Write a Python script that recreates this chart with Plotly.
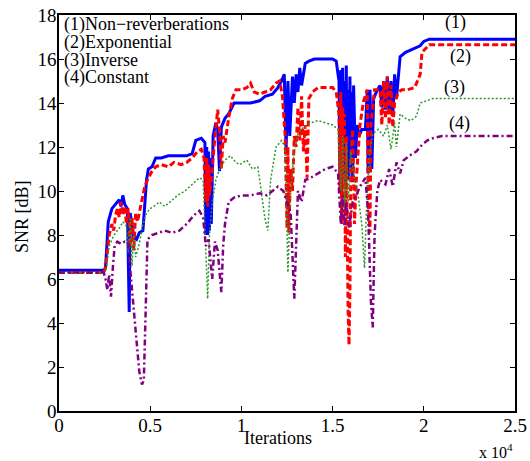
import plotly.graph_objects as go

# ---------------- data ----------------
iter_1 = [0, 2450, 2550, 2700, 2900, 3100, 3300, 3400, 3500, 3600, 3750, 3850, 3900, 4000, 4100, 4250, 4400, 4600,
          4800, 4900, 5100, 5300, 5600, 6000, 6500, 7000, 7300, 7500, 7800, 8000, 8050, 8100, 8150, 8200, 8250, 8300,
          8350, 8450, 8600, 8700, 8800, 8900, 9100, 9300, 9600, 9900, 10500, 11000, 11300, 11700, 12000, 12200, 12350,
          12450, 12550, 12650, 12800, 12900, 13000, 13100, 13200, 13300, 13500, 13700, 14000, 14500, 15000, 15200,
          15350, 15400, 15450, 15500, 15550, 15600, 15650, 15700, 15750, 15800, 15850, 15900, 15950, 16000, 16050,
          16100, 16150, 16250, 16350, 16450, 16600, 16800, 16900, 16950, 17050, 17150, 17250, 17400, 17600, 17700,
          17800, 17900, 18000, 18100, 18200, 18300, 18400, 18500, 18700, 19000, 19300, 19600, 19800, 20000, 20300, 25000]
snr_1 = [6.4, 6.4, 6.5, 8.6, 9.2, 9.4, 9.6, 9.3, 9.8, 9.4, 9.2, 4.5, 9.0, 8.5, 7.9, 7.8, 8.1, 8.2,
         10.5, 11.0, 11.1, 11.5, 11.5, 11.6, 11.6, 11.6, 11.7, 12.3, 12.4, 12.2, 8.0, 12.0, 8.0, 11.8, 8.2, 11.5,
         8.5, 12.5, 13.1, 12.8, 10.9, 12.9, 13.3, 13.5, 14.0, 14.0, 14.0, 14.1, 14.3, 14.4, 14.7, 15.0, 15.3,
         11.9, 15.0, 12.5, 15.2, 14.0, 15.3, 14.5, 15.6, 14.8, 15.8, 15.9, 16.0, 16.0, 16.0, 15.9,
         15.0, 10.5, 15.5, 10.3, 15.6, 10.5, 15.0, 10.2, 15.7, 10.8, 14.6, 10.5, 15.2, 11.0, 14.5,
         10.4, 14.8, 11.5, 13.0, 12.5, 12.8, 12.8, 14.6, 10.8, 14.6, 11.0, 14.2, 14.5, 14.8, 13.8,
         15.0, 13.7, 15.2, 13.5, 15.0, 13.4, 15.3, 14.2, 16.1, 16.3, 16.4, 16.5, 16.6, 16.8, 16.9, 16.9]

iter_2 = [0, 2450, 2550, 2650, 2750, 2900, 3000, 3100, 3200, 3300, 3400, 3500, 3600, 3700, 3800, 3900, 4000, 4100,
          4200, 4300, 4500, 4700, 4900, 5100, 5300, 5600, 6000, 6300, 6700, 7000, 7300, 7600, 7800, 7950, 8050, 8100,
          8150, 8200, 8250, 8350, 8500, 8650, 8700, 8800, 8900, 9000, 9100, 9300, 9500, 9700, 10000, 10300, 10500,
          10700, 11000, 11300, 11600, 11900, 12100, 12250, 12400, 12500, 12550, 12600, 12700, 12800, 12900, 13000,
          13100, 13200, 13300, 13400, 13500, 13600, 13700, 13900, 14200, 14600, 15000, 15200, 15350, 15400, 15450,
          15500, 15550, 15600, 15650, 15700, 15750, 15850, 15900, 15950, 16000, 16100, 16150, 16200, 16300, 16500,
          16700, 16900, 16950, 17050, 17100, 17300, 17600, 17700, 17800, 17900, 18000, 18100, 18200, 18300, 18400,
          18600, 18800, 19100, 19500, 19800, 19900, 20100, 20300, 25000]
snr_2 = [6.3, 6.3, 6.5, 7.3, 8.0, 8.5, 8.2, 8.9, 9.2, 8.8, 9.5, 8.9, 9.3, 8.5, 9.2, 7.5, 8.8, 7.3,
         9.0, 8.6, 9.4, 10.2, 10.6, 10.9, 11.1, 11.2, 11.1, 11.3, 11.2, 11.3, 11.5, 11.8, 11.9, 11.5, 9.5, 11.5,
         9.3, 11.2, 9.8, 10.5, 12.0, 13.2, 13.7, 12.8, 11.0, 12.5, 12.2, 13.3, 14.2, 14.6, 14.6, 14.7, 14.9,
         14.5, 14.4, 14.5, 14.6, 14.9, 15.0, 14.3, 12.5, 8.3, 12.0, 8.1, 11.0, 10.0, 12.5, 12.0,
         13.8, 12.3, 14.3, 11.8, 13.0, 10.6, 14.2, 14.5, 14.7, 14.7, 14.7, 14.5, 13.5, 10.0, 14.5,
         8.5, 13.8, 9.0, 13.5, 7.0, 12.5, 4.5, 3.0, 5.5, 11.5, 12.8, 9.5, 8.5, 10.5, 13.0,
         14.1, 14.6, 9.5, 8.1, 13.0, 14.6, 14.6, 13.0, 15.0, 13.3, 15.2, 13.0, 14.8, 12.9, 14.0,
         14.5, 14.6, 14.6, 14.7, 15.3, 16.3, 16.5, 16.65, 16.65]

iter_3 = [0, 2450, 2600, 2750, 2900, 3100, 3300, 3500, 3700, 3800, 3900, 4000, 4100, 4200, 4400, 4600, 4800, 5000,
          5200, 5500, 5800, 6100, 6500, 6900, 7300, 7700, 7900, 8050, 8150, 8250, 8400, 8600, 8800, 9100, 9400, 9700,
          9900, 10300, 10600, 10900, 11100, 11300, 11450, 11600, 11900, 12200, 12400, 12550, 12700, 12900, 13100,
          13400, 13800, 14200, 14600, 15000, 15300, 15450, 15550, 15650, 15750, 15850, 16000, 16200, 16400, 16600,
          16750, 16850, 17000, 17200, 17500, 17800, 18000, 18200, 18400, 18500, 18700, 19000, 19300, 19600, 19800,
          20100, 20500, 25000]
snr_3 = [6.3, 6.3, 6.5, 7.5, 7.8, 8.1, 8.3, 8.6, 8.4, 7.2, 8.8, 6.6, 8.0, 7.0, 7.6, 8.5, 9.0, 9.2,
         9.3, 9.5, 9.3, 9.5, 9.8, 10.0, 10.3, 10.6, 10.5, 7.0, 5.1, 8.0, 9.5, 10.5, 11.0, 11.4, 11.6, 11.3,
         11.2, 11.4, 11.0, 11.1, 10.0, 8.7, 8.2, 10.5, 12.0, 12.3, 12.0, 6.3, 10.0, 11.8, 12.6,
         12.9, 13.1, 13.2, 13.1, 13.0, 12.8, 10.0, 12.5, 9.2, 12.2, 9.5, 11.8, 10.5, 9.8, 8.5,
         6.5, 9.0, 11.5, 12.6, 12.8, 12.5, 13.0, 11.9, 13.1, 12.0, 13.5, 13.3, 13.2, 13.4, 14.0,
         14.1, 14.2, 14.2]

iter_4 = [0, 2450, 2550, 2650, 2750, 2850, 2950, 3050, 3200, 3400, 3600, 3800, 3950, 4100, 4250, 4400, 4550, 4650,
          4750, 4850, 5100, 5400, 5800, 6200, 6600, 7000, 7400, 7700, 7900, 8050, 8200, 8400, 8550, 8700, 8900, 9000,
          9100, 9300, 9600, 10000, 10500, 11000, 11400, 11700, 12000, 12300, 12500, 12700, 12900, 13000, 13100, 13300,
          13500, 13800, 14200, 14600, 15000, 15300, 15450, 15550, 15650, 15750, 15900, 16100, 16300, 16500, 16800,
          16950, 17100, 17200, 17300, 17450, 17600, 17900, 18100, 18300, 18500, 18700, 18900, 19200, 19600, 19900,
          20200, 20500, 21000, 25000]
snr_4 = [6.3, 6.3, 6.0, 5.5, 6.2, 5.2, 6.5, 7.5, 7.7, 7.6, 7.7, 7.6, 6.0, 4.5, 3.0, 1.8, 1.2, 1.4,
         4.5, 7.8, 8.0, 8.1, 8.2, 8.1, 8.2, 8.5, 8.9, 9.1, 8.8, 7.5, 7.8, 6.0, 7.7, 7.3, 5.4, 7.5,
         8.5, 9.5, 9.7, 9.8, 9.8, 9.9, 9.8, 10.0, 10.2, 10.0, 9.5, 9.0, 5.1, 8.0, 10.0, 9.5,
         10.5, 10.6, 10.8, 11.0, 11.1, 10.8, 8.5, 9.8, 8.4, 9.5, 8.3, 9.5, 9.8, 10.2, 10.6,
         9.0, 5.0, 3.8, 8.0, 10.0, 10.5, 10.3, 11.0, 10.2, 11.3, 10.8, 11.4, 11.6, 11.8, 12.1,
         12.3, 12.4, 12.5, 12.5]

series_names = ["Non\u2212reverberations", "Exponential", "Inverse", "Constant"]
x_tick_vals = [0, 5000, 10000, 15000, 20000, 25000]
x_tick_text = ["0", "0.5", "1", "1.5", "2", "2.5"]
y_tick_vals = [0, 2, 4, 6, 8, 10, 12, 14, 16, 18]

# ---------------- figure ----------------
FONT = "Liberation Serif, Times New Roman, serif"

fig = go.Figure()
fig.add_trace(go.Scatter(x=iter_1, y=snr_1, mode="lines", name=series_names[0],
                         line=dict(color="#0000FF", width=3)))
fig.add_trace(go.Scatter(x=iter_2, y=snr_2, mode="lines", name=series_names[1],
                         line=dict(color="#FF0000", width=3, dash="6px,3px")))
fig.add_trace(go.Scatter(x=iter_3, y=snr_3, mode="lines", name=series_names[2],
                         line=dict(color="#2A962A", width=1.5, dash="2px,2px")))
fig.add_trace(go.Scatter(x=iter_4, y=snr_4, mode="lines", name=series_names[3],
                         line=dict(color="#800080", width=2.5, dash="6px,3px,2px,3px")))

axis_common = dict(showline=True, linecolor="black", linewidth=1.5, mirror="ticks",
                   ticks="inside", ticklen=5, tickcolor="black", tickwidth=1,
                   showgrid=False, zeroline=False, automargin=False,
                   ticklabeloverflow="allow",
                   tickfont=dict(family=FONT, size=19, color="black"))

fig.update_xaxes(range=[0, 25000], tickvals=x_tick_vals, ticktext=x_tick_text,
                 ticklabelstandoff=-4, **axis_common)
fig.update_yaxes(range=[0, 18], tickvals=y_tick_vals, ticklabelstandoff=-3, **axis_common)

annotations = []
legend_y = [17.55, 16.75, 15.95, 15.15]
for i, nm in enumerate(series_names):
    annotations.append(dict(x=140, y=legend_y[i], xref="x", yref="y", text=f"({i+1}){nm}",
                            showarrow=False, xanchor="left", yanchor="middle",
                            font=dict(family=FONT, size=18, color="black")))
right_labels = [(21750, 17.68), (22030, 16.1), (21700, 14.7), (21980, 13.05)]
for i, (lx, ly) in enumerate(right_labels):
    annotations.append(dict(x=lx, y=ly, xref="x", yref="y", text=f"({i+1})", showarrow=False,
                            xanchor="center", yanchor="middle",
                            font=dict(family=FONT, size=18, color="black")))
annotations.append(dict(x=0.48, y=-0.068, xref="paper", yref="paper", text="Iterations",
                        showarrow=False, xanchor="center", yanchor="middle",
                        font=dict(family=FONT, size=18, color="black")))
annotations.append(dict(x=1.0, y=-0.1, xref="paper", yref="paper", text="x 10<sup>4</sup>",
                        showarrow=False, xanchor="right", yanchor="middle",
                        font=dict(family=FONT, size=16, color="black")))
annotations.append(dict(x=-0.081, y=0.49, xref="paper", yref="paper", text="SNR [dB]", textangle=-90,
                        showarrow=False, xanchor="center", yanchor="middle",
                        font=dict(family=FONT, size=18, color="black")))

fig.update_layout(width=530, height=461, margin=dict(l=59, r=15, t=15, b=50),
                  paper_bgcolor="white", plot_bgcolor="white", showlegend=False,
                  annotations=annotations, font=dict(family=FONT, color="black"))

# remove the default page margin so the figure fills the 530x461 window exactly
fig.write_html("out.html", config={"displayModeBar": False},
               post_script="document.body.style.margin='0';document.body.style.overflow='hidden';")
